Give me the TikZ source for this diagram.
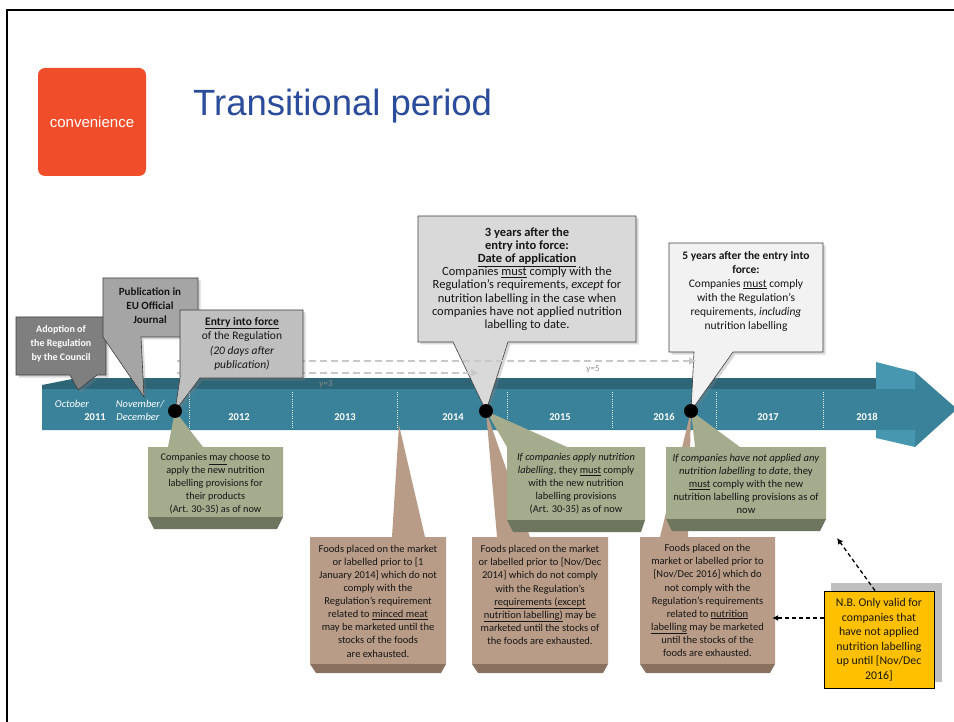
\documentclass[tikz,border=0pt]{standalone}
\usepackage{fontspec}
\setmainfont{Carlito}
\newfontfamily\sansfont{Liberation Sans}
\usetikzlibrary{arrows.meta,shadows}

\definecolor{logoRed}{HTML}{F04E2B}
\definecolor{titleBlue}{HTML}{2B4C9B}
\definecolor{barFace}{HTML}{3A8299}
\definecolor{barTop}{HTML}{2E6677}
\definecolor{barFlap}{HTML}{4797B0}
\definecolor{grayA}{HTML}{7F7F7F}
\definecolor{grayB}{HTML}{A5A5A5}
\definecolor{grayC}{HTML}{BFBFBF}
\definecolor{grayD}{HTML}{D9D9D9}
\definecolor{grayE}{HTML}{F2F2F2}
\definecolor{edgeGray}{HTML}{3F3F3F}
\definecolor{sage}{HTML}{A4AC8D}
\definecolor{sageDark}{HTML}{6E7660}
\definecolor{tan}{HTML}{B89C87}
\definecolor{tanDark}{HTML}{8A705F}
\definecolor{nbYellow}{HTML}{FFC000}
\definecolor{inkDark}{HTML}{161616}
\definecolor{dashGray}{HTML}{C8C8C8}

\begin{document}
\begin{tikzpicture}[x=1pt,y=-1pt,
  every node/.style={inner sep=0pt},
  logo/.style={fill=logoRed, rounded corners=7pt, minimum width=108pt, minimum height=108pt,
    text=white, font=\sansfont\fontsize{15}{18}\selectfont},
  heading/.style={text=titleBlue, font=\sansfont\fontsize{36.5}{40}\selectfont, anchor=base west},
  yearlabel/.style={text=white, font=\fontsize{10.5}{12}\selectfont\bfseries},
  monthlabel/.style={text=white, font=\fontsize{10.5}{12}\selectfont\itshape},
  divider/.style={white, line width=0.7pt, dash pattern=on 1pt off 1.2pt, opacity=0.85},
  yrnote/.style={text=black!45, font=\fontsize{9}{10}\selectfont},
  dashline/.style={dashGray, line width=1.3pt, dash pattern=on 7pt off 4pt,
    -{Triangle[length=7pt,width=7pt]}},
  callout/.style={draw=edgeGray, line width=0.6pt,
    drop shadow={shadow xshift=2.5pt, shadow yshift=-2.5pt, opacity=0.3}},
  calltext/.style={align=center, text=inkDark},
  sagebox/.style={fill=sage},
  sagebevel/.style={fill=sageDark},
  tanbox/.style={fill=tan},
  tanbevel/.style={fill=tanDark},
  dot/.style={circle, fill=black, minimum size=14pt},
  nbbox/.style={fill=nbYellow, draw=black, line width=0.8pt, minimum width=110pt,
    minimum height=97pt, align=center, text=inkDark, font=\fontsize{11.8}{14.5}\selectfont},
  nbarrow/.style={black, line width=1.3pt, dash pattern=on 4pt off 3pt,
    -{Latex[length=6pt,width=6pt]}}
]
\useasboundingbox (0,0) rectangle (954,722);
\fill[white] (0,0) rectangle (954,722);

% slide frame
\draw[line width=2.2pt] (7,722) -- (7,10) -- (954,10);

% header
\node[logo] (logo) at (92,122) {convenience};
\node[heading] (title) at (193,116) {Transitional period};

% timeline bar
\fill[barTop] (42,389) -- (42,385) -- (77,378) -- (876,378) -- (876,389) -- cycle;
\fill[barFace] (42,389) -- (915,389) -- (915,372) -- (957,409) -- (915,447) -- (915,430) -- (42,430) -- cycle;
\fill[barFlap] (876,362) -- (915,372) -- (915,389) -- (876,389) -- cycle;
\fill[barFlap] (876,430) -- (915,430) -- (915,447) -- (876,438) -- cycle;

\foreach \x in {189,292,397,507,612,716,823}
  \draw[divider] (\x,392) -- (\x,428);

\foreach \x/\yr in {239/2012,345/2013,453/2014,560/2015,664/2016,768/2017,867/2018}
  \node[yearlabel] (yr\yr) at (\x,417) {\yr};
\node[yearlabel] (yr2011) at (95,417) {2011};
\node[monthlabel] (oct) at (72,404) {October};
\node[monthlabel] (nov) at (140,404) {November/};
\node[monthlabel] (dec) at (138,417) {December};

% milestones on the bar
\coordinate (d1) at (175,411);
\coordinate (d2) at (486,411);
\coordinate (d3) at (691,411);
\coordinate (octTip) at (78,390);
\coordinate (novTip) at (144,397);
\coordinate (b1Tip) at (399,425);

% 3 years callout
\draw[callout, fill=grayD] (418,216) -- (636,216) -- (636,342) -- (508,342) -- (d2) -- (453,342) -- (418,342) -- cycle;
\node[calltext, font=\fontsize{12.5}{13.2}\selectfont] (c4) at (527,279)
  {\textbf{3 years after the}\\ \textbf{entry into force:}\\ \textbf{\underline{Date of application}}\\
   Companies \underline{must} comply with the\\ Regulation’s requirements, \textit{except} for\\
   nutrition labelling in the case when\\ companies have not applied nutrition\\ labelling to date.};

% 5 years callout
\draw[callout, fill=grayE] (669,243) -- (823,243) -- (823,352) -- (733,352) -- (d3) -- (694,352) -- (669,352) -- cycle;
\node[calltext, font=\fontsize{11.5}{14}\selectfont] (c5) at (746,291)
  {\textbf{5 years after the entry into}\\ \textbf{force:}\\ Companies \underline{must} comply\\
   with the Regulation’s\\ requirements, \textit{including}\\ nutrition labelling};

% periods y=3 and y=5
\coordinate (y5start) at (177,361);
\coordinate (y5end) at (696,361);
\coordinate (y3start) at (177,373);
\coordinate (y3end) at (478,373);
\draw[dashline] (y5start) -- (y5end);
\draw[dashline] (y3start) -- (y3end);
\node[yrnote] (y5) at (593,369) {y=5};
\node[yrnote] (y3) at (326,384) {y=3};

% adoption callout
\draw[callout, fill=grayA] (16,317) -- (106,317) -- (106,375) -- (97,375) -- (octTip) -- (70,375) -- (16,375) -- cycle;
\node[calltext, text=white, font=\fontsize{10}{14}\selectfont\bfseries] (c1) at (61,344)
  {Adoption of\\ the Regulation\\ by the Council};

% publication callout
\draw[callout, fill=grayB] (103,278) -- (198,278) -- (198,337) -- (141,337) -- (novTip) -- (103,337) -- cycle;
\node[calltext, font=\fontsize{11}{14}\selectfont\bfseries] (c2) at (150,306)
  {Publication in\\ EU Official\\ Journal};

% entry into force callout
\draw[callout, fill=grayC] (180,310) -- (303,310) -- (303,378) -- (200,378) -- (d1) -- (180,378) -- cycle;
\node[calltext, font=\fontsize{11.5}{14.5}\selectfont] (c3) at (242,344)
  {\textbf{\underline{Entry into force}}\\ of the Regulation\\ \textit{(20 days after}\\ \textit{publication)}};

% transitional stocks callouts
\fill[tanbox] (392,537) -- (b1Tip) -- (425,537) -- (446,537) -- (446,664) -- (310,664) -- (310,537) -- cycle;
\fill[tanbevel] (310,664) -- (446,664) -- (441,673) -- (316,673) -- cycle;
\node[calltext, font=\fontsize{10.5}{13.1}\selectfont] (b1) at (378,601)
  {Foods placed on the market\\ or labelled prior to [1\\ January 2014] which do not\\ comply with the\\
   Regulation’s requirement\\ related to \underline{minced meat}\\ may be marketed until the\\
   stocks of the foods\\ are exhausted.};

\fill[tanbox] (497,537) -- (d2) -- (530,537) -- (608,537) -- (608,664) -- (472,664) -- (472,537) -- cycle;
\fill[tanbevel] (472,664) -- (608,664) -- (603,673) -- (478,673) -- cycle;
\node[calltext, font=\fontsize{10.5}{13.1}\selectfont] (b2) at (540,595)
  {Foods placed on the market\\ or labelled prior to [Nov/Dec\\ 2014] which do not comply\\
   with the Regulation’s\\ \underline{requirements (except}\\ \underline{nutrition labelling)} may be\\
   marketed until the stocks of\\ the foods are exhausted.};

\fill[tanbox] (660,537) -- (d3) -- (688,537) -- (775,537) -- (775,664) -- (640,664) -- (640,537) -- cycle;
\fill[tanbevel] (640,664) -- (775,664) -- (770,673) -- (646,673) -- cycle;
\node[calltext, font=\fontsize{10.5}{13.1}\selectfont, minimum width=135pt, minimum height=127pt] (b3) at (707.5,600.5)
  {Foods placed on the\\ market or labelled prior to\\ {[}Nov/Dec 2016] which do\\ not comply with the\\
   Regulation’s requirements\\ related to \underline{nutrition}\\ \underline{labelling} may be marketed\\
   until the stocks of the\\ foods are exhausted.};

% nutrition labelling callouts
\fill[sagebox] (148,447) -- (168,447) -- (d1) -- (203,447) -- (283,447) -- (283,517) -- (148,517) -- cycle;
\fill[sagebevel] (148,517) -- (283,517) -- (277,529) -- (154,529) -- cycle;
\node[calltext, font=\fontsize{10.3}{13}\selectfont] (g1) at (215.5,484)
  {Companies \underline{may} choose to\\ apply the new nutrition\\ labelling provisions for\\
   their products\\ (Art. 30-35) as of now};

\fill[sagebox] (507,447) -- (d2) -- (567,447) -- (645,447) -- (645,520) -- (507,520) -- cycle;
\fill[sagebevel] (507,520) -- (645,520) -- (641,532) -- (513,532) -- cycle;
\node[calltext, font=\fontsize{10.4}{13}\selectfont] (g2) at (576,484)
  {\textit{If companies apply nutrition}\\ \textit{labelling}, they \underline{must} comply\\
   with the new nutrition\\ labelling provisions\\ (Art. 30-35) as of now};

\fill[sagebox] (666,447) -- (695,447) -- (d3) -- (740,447) -- (826,447) -- (826,519) -- (666,519) -- cycle;
\fill[sagebevel] (666,519) -- (826,519) -- (820,531) -- (672,531) -- cycle;
\node[calltext, font=\fontsize{10.6}{13}\selectfont] (g3) at (746,484)
  {\textit{If companies have not applied any}\\ \textit{nutrition labelling to date}, they\\
   \underline{must} comply with the new\\ nutrition labelling provisions as of\\ now};

% milestone dots
\node[dot] (dot1) at (d1) {};
\node[dot] (dot2) at (d2) {};
\node[dot] (dot3) at (d3) {};

% note
\fill[black!25] (831,583) rectangle (942,682);
\node[nbbox] (nb) at (879,639.5)
  {N.B. Only valid for\\ companies that\\ have not applied\\ nutrition labelling\\ up until [Nov/Dec\\ 2016]};
\coordinate (h618) at (0,618);
\coordinate (g3Corner) at (837,538);
\draw[nbarrow, shorten >=-3pt] (nb.west |- h618) -- (b3.east |- h618);
\draw[nbarrow] ([xshift=-4pt]nb.north) -- (g3Corner);
\end{tikzpicture}
\end{document}
